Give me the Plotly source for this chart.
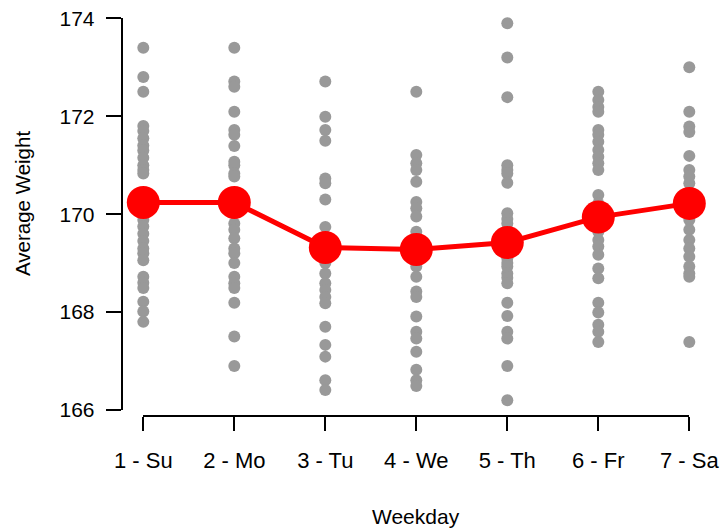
import plotly.graph_objects as go

# Weekday labels and per-day weight observations
weekdays = ["1 - Su", "2 - Mo", "3 - Tu", "4 - We", "5 - Th", "6 - Fr", "7 - Sa"]

sunday = [173.4, 172.8, 172.5, 171.8, 171.7, 171.55, 171.4, 171.3, 171.15, 171.0,
          170.9, 170.83, 170.3, 170.1, 169.88, 169.75, 169.6, 169.45, 169.3, 169.2,
          169.06, 168.72, 168.6, 168.49, 168.21, 168.01, 167.8]
monday = [173.4, 172.71, 172.6, 172.09, 171.72, 171.62, 171.39, 171.07, 171.0, 170.83,
          170.77, 170.4, 170.1, 169.81, 169.68, 169.51, 169.3, 169.2, 169.0, 168.72,
          168.59, 168.49, 168.19, 167.5, 166.9]
tuesday = [172.71, 171.99, 171.72, 171.5, 170.73, 170.63, 170.3, 169.74, 169.5, 169.3,
           169.1, 169.0, 168.79, 168.59, 168.45, 168.31, 168.18, 167.7, 167.33, 167.09,
           166.61, 166.41]
wednesday = [172.5, 171.21, 171.04, 170.9, 170.66, 170.25, 170.12, 169.95, 169.64, 169.4,
             169.1, 168.93, 168.72, 168.42, 168.31, 167.91, 167.6, 167.46, 167.19, 166.82,
             166.61, 166.49]
thursday = [173.9, 173.2, 172.39, 171.0, 170.9, 170.83, 170.64, 170.02, 169.9, 169.81,
            169.6, 169.3, 169.1, 169.0, 168.93, 168.79, 168.7, 168.59, 168.19, 167.92,
            167.6, 167.46, 166.9, 166.2]
friday = [172.5, 172.33, 172.19, 172.09, 171.72, 171.62, 171.48, 171.31, 171.17, 171.04,
          170.9, 170.39, 170.22, 170.0, 169.8, 169.64, 169.47, 169.34, 169.17, 168.89,
          168.69, 168.19, 167.99, 167.74, 167.6, 167.39]
saturday = [173.0, 172.09, 171.79, 171.68, 171.19, 170.9, 170.77, 170.63, 170.4, 170.1,
            169.88, 169.68, 169.47, 169.3, 169.13, 168.93, 168.79, 168.72, 167.39]

# Average weight per weekday
averages = [170.24, 170.24, 169.32, 169.28, 169.42, 169.94, 170.22]

y_ticks = [166, 168, 170, 172, 174]

by_day = [sunday, monday, tuesday, wednesday, thursday, friday, saturday]
pts_x, pts_y = [], []
for i, vals in enumerate(by_day, start=1):
    pts_x += [i] * len(vals)
    pts_y += vals

FONT = "Liberation Sans"
W, H = 721, 531

fig = go.Figure()
fig.add_trace(go.Scatter(
    x=pts_x, y=pts_y, mode="markers",
    marker=dict(size=12, color="#999999", line=dict(width=0)),
    cliponaxis=False, hoverinfo="y", showlegend=False,
))
fig.add_trace(go.Scatter(
    x=list(range(1, 8)), y=averages, mode="lines+markers",
    line=dict(color="#ff0000", width=5),
    marker=dict(size=33, color="#ff0000", line=dict(width=0)),
    cliponaxis=False, showlegend=False,
))

# offset axes: y spine left of the first weekday, x spine below the y range
x_left, x_right = 143.3, 689.3
y_top, y_bot = 18.3, 410.0
x_line_y = 415.7
y_line_x = 121.7

fig.update_layout(
    template="none",
    width=W, height=H,
    margin=dict(l=0, r=0, t=0, b=0, pad=0),
    paper_bgcolor="white", plot_bgcolor="white",
    font=dict(family=FONT, size=21, color="black"),
    xaxis=dict(
        range=[1, 7], domain=[x_left / W, x_right / W],
        tickmode="array", tickvals=list(range(1, 8)), ticktext=weekdays,
        tickfont=dict(size=22),
        ticks="outside", ticklen=14, tickwidth=2, tickcolor="black",
        ticklabelstandoff=11,
        showline=True, linecolor="black", linewidth=2,
        showgrid=False, zeroline=False, automargin=False,
        anchor="free", position=1 - x_line_y / H,
    ),
    yaxis=dict(
        range=[166, 174], domain=[1 - y_bot / H, 1 - y_top / H],
        tickmode="array", tickvals=y_ticks,
        tickfont=dict(size=21),
        ticks="outside", ticklen=15, tickwidth=2, tickcolor="black",
        ticklabelstandoff=7,
        showline=True, linecolor="black", linewidth=2,
        showgrid=False, zeroline=False, automargin=False,
        anchor="free", position=y_line_x / W,
    ),
    annotations=[
        dict(text="Weekday", x=(x_left + x_right) / 2 / W, y=1 - 516 / H,
             xref="paper", yref="paper", showarrow=False,
             xanchor="center", yanchor="middle", font=dict(size=21)),
        dict(text="Average Weight", x=22 / W, y=1 - 204 / H,
             xref="paper", yref="paper", showarrow=False, textangle=-90,
             xanchor="center", yanchor="middle", font=dict(size=20.5)),
    ],
)

fig.write_html("out.html")
